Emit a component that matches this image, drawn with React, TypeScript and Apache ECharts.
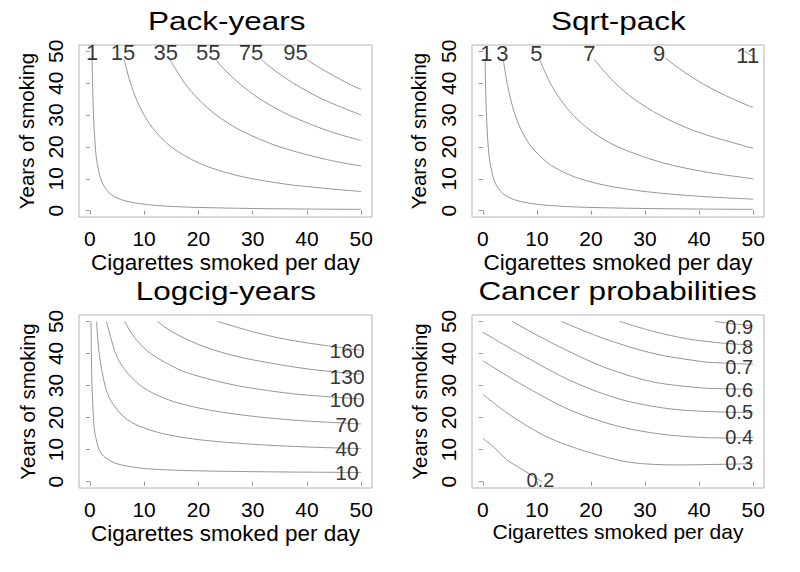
import React, { useEffect, useRef } from "react";
import * as echarts from "echarts";

// ---------- data ----------
const xTicks = [0, 10, 20, 30, 40, 50];
const yTicks = [0, 10, 20, 30, 40, 50];
const xTitle = "Cigarettes smoked per day";
const yTitle = "Years of smoking";
const panelTitles = ["Pack-years", "Sqrt-pack", "Logcig-years", "Cancer probabilities"];

// Pack-years contours
const packLevels = ["1", "15", "35", "55", "75", "95"];
const packCurves = [
  [[0.42, 47.5], [0.5, 40], [0.67, 30], [1, 20], [1.33, 15], [2, 10], [2.5, 8], [3.33, 6], [4, 5], [5, 4], [6.67, 3], [10, 2], [15, 1.33], [20, 1], [30, 0.67], [40, 0.5], [50, 0.4]],
  [[6.32, 47.5], [6.67, 45], [7.5, 40], [8.57, 35], [10, 30], [12, 25], [15, 20], [20, 15], [25, 12], [30, 10], [37.5, 8], [50, 6]],
  [[14.7, 47.5], [15.6, 45], [17.5, 40], [20, 35], [23.3, 30], [28, 25], [35, 20], [43.75, 16], [50, 14]],
  [[23.2, 47.5], [24.4, 45], [27.5, 40], [31.4, 35], [36.7, 30], [44, 25], [50, 22]],
  [[31.6, 47.5], [33.3, 45], [37.5, 40], [42.9, 35], [50, 30]],
  [[40, 47.5], [42.2, 45], [47.5, 40], [50, 38]],
];
const packLabelPos = [[0.42, 49.5], [6.1, 49.5], [14.0, 49.5], [21.8, 49.5], [29.7, 49.5], [37.9, 49.5]];

// Sqrt-pack contours
const sqrtLevels = ["1", "3", "5", "7", "9", "11"];
const sqrtCurves = [
  [[0.42, 47.5], [0.5, 40], [0.67, 30], [1, 20], [1.33, 15], [2, 10], [2.5, 8], [3.33, 6], [4, 5], [5, 4], [6.67, 3], [10, 2], [15, 1.33], [20, 1], [30, 0.67], [40, 0.5], [50, 0.4]],
  [[3.79, 47.5], [4, 45], [4.5, 40], [5.14, 35], [6, 30], [7.2, 25], [9, 20], [12, 15], [15, 12], [18, 10], [22.5, 8], [30, 6], [40, 4.5], [50, 3.6]],
  [[10.5, 47.5], [11.1, 45], [12.5, 40], [14.3, 35], [16.7, 30], [20, 25], [25, 20], [33.3, 15], [41.7, 12], [50, 10]],
  [[20.6, 47.5], [21.8, 45], [24.5, 40], [28, 35], [32.7, 30], [39.2, 25], [49, 20], [50, 19.6]],
  [[33.7, 48], [36, 45], [40.5, 40], [46.3, 35], [50, 32.4]],
  [[48.4, 50], [50, 48.4]],
];
const sqrtLabelPos = [[0.68, 49.4], [3.6, 49.4], [9.9, 49.4], [19.7, 49.4], [32.6, 49.4], [49.0, 48.6]];

// Logcig-years contours
const logLevels = ["10", "40", "70", "100", "130", "160"];
const logCurves = [
  [[0.22, 50], [0.28, 40], [0.4, 30], [0.65, 20], [0.95, 15], [1.7, 10], [2.5, 8], [4.3, 6], [6.4, 5], [10, 4.1], [15, 3.6], [20, 3.35], [30, 3.1], [40, 2.95], [50, 2.85]],
  [[1.23, 50], [1.72, 40], [2.79, 30], [3.95, 25], [6.39, 20], [9, 17.4], [13.4, 15], [20, 13.1], [30, 11.65], [40, 10.8], [50, 10.3]],
  [[3.06, 50], [4.75, 40], [6.39, 35], [9.31, 30], [12, 27.3], [15.4, 25], [20, 23], [25, 21.5], [32.1, 20], [40, 18.9], [50, 18]],
  [[6.39, 50], [8.23, 45], [11.18, 40], [16.4, 35], [20, 32.9], [27, 30], [34.6, 28], [40, 27], [50, 25.8]],
  [[12.46, 50], [15, 46.9], [20, 42.8], [25, 40], [30, 38], [40, 35.2], [50, 33.5]],
  [[23.5, 50], [30, 46.8], [35, 44.8], [40, 43.3], [50, 41]],
];
const logLabelPos = [[47.4, 2.9], [47.4, 10.2], [47.4, 17.9], [47.4, 25.5], [47.4, 32.8], [47.4, 40.8]];

// Cancer probability contours
const cancerLevels = ["0.2", "0.3", "0.4", "0.5", "0.6", "0.7", "0.8", "0.9"];
const cancerCurves = [
  [[0, 13.5], [2, 10.8], [4.5, 6.7], [7, 4.1], [10, 0.9], [11, 0]],
  [[0, 27.2], [5.1, 20.7], [11.9, 13.9], [19.3, 9.3], [27.3, 6.0], [35.9, 5.2], [44.5, 5.4], [50, 5.6]],
  [[0, 37.7], [7, 30.5], [16.2, 22.3], [25.4, 17.1], [34.6, 14.5], [44.5, 13.6], [50, 13.8]],
  [[0, 46.6], [7, 39.8], [16.2, 31.5], [25.4, 25.7], [34.6, 22.7], [44.5, 21.7], [50, 21.6]],
  [[5.4, 50], [13.1, 43.0], [22.3, 35.8], [31.5, 31.1], [40.8, 29.2], [44.5, 29.0], [50, 28.8]],
  [[14.5, 50], [22.3, 44.7], [31.5, 40.0], [40.8, 37.4], [44.5, 37.0], [50, 36.6]],
  [[25.3, 50], [31.5, 46.9], [37.7, 44.6], [44.5, 43.2], [50, 42.6]],
  [[42.9, 50], [46, 49.3], [50, 48.6]],
];
const cancerLabelPos = [[10.65, 0.5], [47.4, 5.7], [47.4, 14.0], [47.4, 21.8], [47.4, 28.5], [47.4, 35.8], [47.4, 42.0], [47.4, 48.3]];

// ---------- layout / style ----------
const FONT = '"Liberation Sans", Arial, Helvetica, sans-serif';
const LINE_COLOR = "#8a8a8a";
const BOX_COLOR = "#b4b4b4";
const layout = [
  { grid: { left: 79, top: 45, width: 293, height: 172 }, tx: 226.7, ty: 21, xGap: 34, yGap: 42, xNameSize: 22.5, labelSize: 22 },
  { grid: { left: 472, top: 45, width: 292, height: 172 }, tx: 618.3, ty: 21.5, xGap: 34, yGap: 43.5, xNameSize: 22.5, labelSize: 22 },
  { grid: { left: 79, top: 315, width: 293, height: 173 }, tx: 225.8, ty: 291, xGap: 33.5, yGap: 41, xNameSize: 22.5, labelSize: 21 },
  { grid: { left: 472, top: 315, width: 292, height: 173 }, tx: 617.5, ty: 291, xGap: 33, yGap: 42, xNameSize: 21, labelSize: 20 },
];

const panels = [
  { curves: packCurves, levels: packLevels, labelPos: packLabelPos },
  { curves: sqrtCurves, levels: sqrtLevels, labelPos: sqrtLabelPos },
  { curves: logCurves, levels: logLevels, labelPos: logLabelPos },
  { curves: cancerCurves, levels: cancerLevels, labelPos: cancerLabelPos },
];

function buildOption() {
  const grid = layout.map((l) => ({
    ...l.grid,
    show: true,
    borderColor: BOX_COLOR,
    borderWidth: 1,
    backgroundColor: "transparent",
  }));
  const xAxis = layout.map((l, i) => ({
    type: "value",
    gridIndex: i,
    min: -2,
    max: 52,
    name: xTitle,
    nameLocation: "middle",
    nameGap: l.xGap,
    nameTextStyle: { color: "#000", fontSize: l.xNameSize, fontFamily: FONT },
    axisLine: { show: false },
    splitLine: { show: false },
    axisTick: { show: true, length: 4, lineStyle: { color: "#999" }, customValues: xTicks },
    axisLabel: { color: "#000", fontSize: 21, fontFamily: FONT, margin: 11, customValues: xTicks },
  }));
  const yAxis = layout.map((l, i) => ({
    type: "value",
    gridIndex: i,
    min: -2,
    max: 52,
    name: yTitle,
    nameLocation: "middle",
    nameGap: l.yGap,
    nameTextStyle: { color: "#000", fontSize: 20.5, fontFamily: FONT },
    axisLine: { show: false },
    splitLine: { show: false },
    axisTick: { show: true, length: 4, lineStyle: { color: "#999" }, customValues: yTicks },
    axisLabel: { color: "#000", fontSize: 21, fontFamily: FONT, margin: 13, rotate: 90, customValues: yTicks },
  }));
  const series: any[] = [];
  panels.forEach((p, i) => {
    p.curves.forEach((c, j) => {
      series.push({
        type: "line",
        name: `${panelTitles[i]} ${p.levels[j]}`,
        xAxisIndex: i,
        yAxisIndex: i,
        data: c,
        symbol: "none",
        showSymbol: false,
        smooth: 0.3,
        silent: true,
        lineStyle: { color: LINE_COLOR, width: 0.9 },
      });
    });
    series.push({
      type: "scatter",
      xAxisIndex: i,
      yAxisIndex: i,
      symbolSize: 1,
      silent: true,
      z: 5,
      itemStyle: { color: "rgba(0,0,0,0)" },
      data: p.labelPos.map((pos, j) => ({ value: pos, name: p.levels[j] })),
      label: {
        show: true,
        position: "inside",
        formatter: "{b}",
        color: "#000",
        fontSize: layout[i].labelSize,
        lineHeight: layout[i].labelSize - 3,
        fontFamily: FONT,
      },
    });
  });
  const graphic = layout.map((l, i) => ({
    type: "text",
    x: l.tx,
    y: l.ty,
    scaleX: 1.26,
    silent: true,
    style: {
      text: panelTitles[i],
      font: `25px ${FONT}`,
      fill: "#000",
      textAlign: "center",
      textVerticalAlign: "middle",
      align: "center",
      verticalAlign: "middle",
    },
  }));
  return {
    animation: false,
    backgroundColor: "#fff",
    grid,
    xAxis,
    yAxis,
    series,
    graphic,
  };
}

export default function App() {
  const ref = useRef<HTMLDivElement>(null);
  useEffect(() => {
    if (!ref.current) return;
    const chart = echarts.init(ref.current, null, { renderer: "svg" });
    chart.setOption(buildOption() as any);
    return () => chart.dispose();
  }, []);
  return (
    <div
      ref={ref}
      style={{ position: "absolute", left: 0, top: 0, width: 800, height: 572, background: "#fff" }}
    />
  );
}
